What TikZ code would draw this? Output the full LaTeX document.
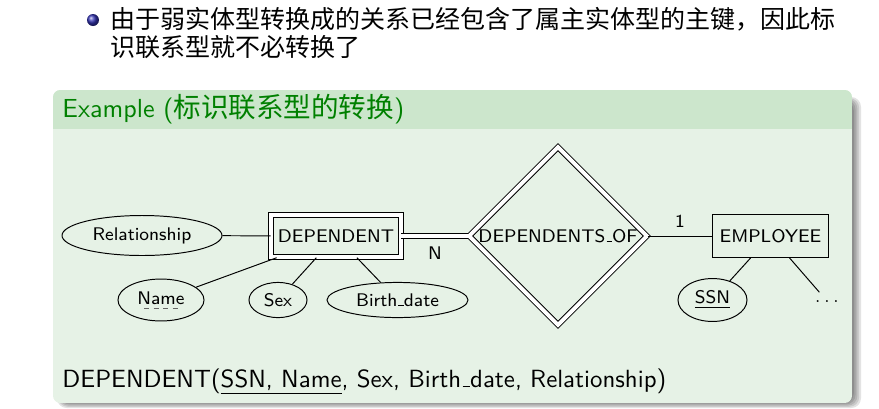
\documentclass[tikz,border=0pt]{standalone}
\usepackage{fontspec}
\newfontfamily\cjk{Noto Sans CJK SC}
\usetikzlibrary{shapes.geometric}
\definecolor{exgreen}{RGB}{0,128,0}
\definecolor{extitle}{RGB}{204,230,204}
\definecolor{exbody}{RGB}{230,242,230}
\definecolor{ballblue}{RGB}{51,51,179}
\newcommand{\erfont}{\sffamily\fontsize{7.5}{9}\selectfont}
% dashed underline for a partial key
\newcommand{\partkey}[1]{\setbox0\hbox{#1}\vtop{\offinterlineskip\copy0\kern1.4pt
  \hbox to\wd0{\color{black!60}\cleaders\hbox{\kern0.85pt\vrule width 2.2pt height 0.4pt\kern0.85pt}\hfill}}}
% short underscore as in the OT1 fonts
\newcommand{\usc}{\leavevmode\kern.06em\vbox{\hrule width.3em}}

\begin{document}
\begin{tikzpicture}[x=0.41pt,y=-0.41pt,
    entity/.style={draw,inner sep=0pt,minimum width=47.2pt,minimum height=17.6pt,font=\erfont},
    weakentity/.style={entity,double,double distance=1.6pt,minimum width=53.3pt,minimum height=17.4pt},
    attr/.style={draw,ellipse,inner sep=0pt,font=\erfont},
    identrel/.style={draw,diamond,double,double distance=1.6pt,inner sep=0pt,minimum width=73pt,minimum height=73pt,font=\erfont},
    card/.style={font=\erfont}]
  \useasboundingbox (0,0) rectangle (879,408);

  % bullet line
  \shade[ball color=ballblue] (93,20) circle (2.46pt);
  \node[anchor=west,inner sep=0pt,font=\cjk\fontsize{10.25}{12}\selectfont] (line1) at (110,19) {由于弱实体型转换成的关系已经包含了属主实体型的主键，因此标};
  \node[anchor=west,inner sep=0pt,font=\cjk\fontsize{10.25}{12}\selectfont] (line2) at (110,47) {识联系型就不必转换了};

  % example block
  \foreach \k in {0,...,4}
    \fill[black,opacity=0.11,rounded corners=4pt] (57+\k,97+\k) rectangle (861-1.8*\k,408-1.2*\k);
  \begin{scope}
    \clip[rounded corners=3pt] (53,90) rectangle (852,403);
    \fill[exbody] (53,90) rectangle (852,403);
    \fill[extitle] (53,90) rectangle (852,129);
  \end{scope}
  \node[anchor=base west,inner sep=0pt,text=exgreen,font=\sffamily\fontsize{10.7}{13}\selectfont] (title) at (62,117)
    {Example ({\cjk\fontsize{11.3}{13}\selectfont 标识联系型的转换})};

  % ER diagram
  \node[attr,minimum width=65.6pt,minimum height=16.4pt] (relship) at (142,235.5) {Relationship};
  \node[weakentity] (dependent) at (336,236) {DEPENDENT};
  \node[attr,minimum width=35.3pt,minimum height=17.2pt] (name) at (161,300) {\partkey{Name}};
  \node[attr,minimum width=23.8pt,minimum height=14.4pt] (sex) at (278,300) {Sex};
  \node[attr,minimum width=57.8pt,minimum height=14.4pt] (bdate) at (397.5,300) {Birth\usc date};
  \node[identrel] (depof) at (558,236) {DEPENDENTS\usc OF};
  \node[entity] (employee) at (770.5,236) {EMPLOYEE};
  \node[attr,minimum width=28.3pt,minimum height=17.6pt] (ssn) at (712.5,300) {\underline{SSN}};
  \node[anchor=base,inner sep=3pt,font=\erfont] (more) at (827,302) {$\ldots$};

  \draw (relship) -- (dependent);
  \draw (name) -- (dependent);
  \draw (sex) -- (dependent);
  \draw (bdate) -- (dependent);
  \draw[double,double distance=1.6pt] (dependent) -- node[card,below=1pt] {N} (depof);
  \draw (depof) -- node[card,above] {1} (employee);
  \draw (ssn) -- (employee);
  \draw (more) -- (employee);

  \node[anchor=base west,inner sep=0pt,font=\sffamily\fontsize{10.2}{12}\selectfont] (relation) at (62,387)
    {DEPENDENT(\underline{SSN, Name}, Sex, Birth\usc date, Relationship)};
\end{tikzpicture}
\end{document}
